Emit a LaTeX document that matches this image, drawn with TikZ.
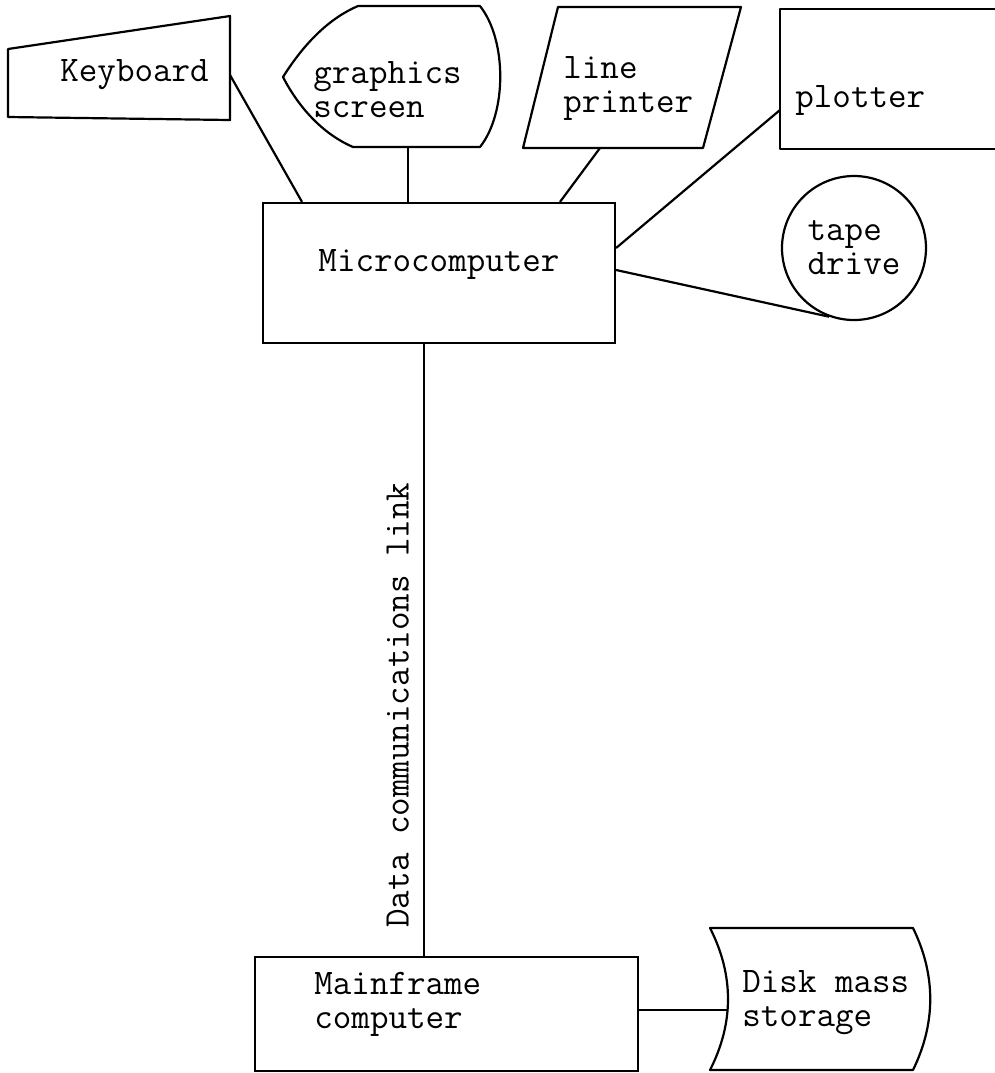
\documentclass[tikz,border=0pt]{standalone}
\usepackage{tikz}

\begin{document}
\begin{tikzpicture}[
  x=0.5pt, y=-0.5pt,
  font=\ttfamily\fontsize{18}{17}\selectfont,
  outline/.style={draw, line width=1.1pt, line join=round},
  box/.style={draw, line width=1.1pt, rectangle, inner sep=0pt},
  link/.style={line width=1.1pt},
  txt/.style={anchor=west, inner sep=0pt, align=left}
]
  \useasboundingbox (0,0) rectangle (995,1073);

  % peripherals
  \draw[outline] (8,49) -- (230,16) -- (230,120) -- (8,117) -- cycle;
  \node[txt] (kbdtxt) at (60,75) {Keyboard};
  \coordinate (kbdport) at (230,75);

  \draw[outline] (283,77) .. controls (305,42) and (330,18) .. (358,6) -- (480,6)
    .. controls (507,40) and (507,113) .. (480,147) -- (353,147)
    .. controls (325,135) and (300,110) .. (283,77) -- cycle;
  \node[txt] (scrtxt) at (313,90) {graphics\\screen};
  \coordinate (scrport) at (408,147);

  \draw[outline] (558,7) -- (741,7) -- (703,148) -- (523,148) -- cycle;
  \node[txt] (prntxt) at (563,88) {line\\printer};
  \coordinate (prnport) at (600,148);

  \draw[outline] (995,9) -- (780,9) -- (780,149) -- (995,149);
  \node[txt] (plttxt) at (795,100) {plotter};
  \coordinate (pltport) at (780,110);

  \node[circle, draw, line width=1.1pt, minimum size=72pt, inner sep=0pt, align=left] (tape) at (854,248) {tape\\drive};

  % computers
  \node[box, minimum width=176pt, minimum height=70pt, text height=11pt, text depth=13pt] (micro) at (439,273) {Microcomputer};
  \node[box, minimum width=191.5pt, minimum height=57pt] (main) at (446.5,1014) {};
  \node[txt] (maintxt) at (314,1004) {Mainframe\\computer};

  \draw[outline] (710,928) -- (913,928) .. controls (936,975) and (936,1023) .. (913,1070)
    -- (710,1070) .. controls (734,1023) and (734,975) .. (710,928) -- cycle;
  \node[txt] (disktxt) at (742,1003) {Disk mass\\storage};
  \coordinate (diskport) at (728,1010);

  % connections
  \draw[link] (kbdport) -- ([xshift=-68.5pt]micro.north);
  \draw[link] (scrport) -- (scrport |- micro.north);
  \draw[link] (prnport) -- ([xshift=60.5pt]micro.north);
  \draw[link] (pltport) -- ([yshift=12.5pt]micro.east);
  \draw[link] ([yshift=1.5pt]micro.east) -- (tape.250);
  \draw[link] ([xshift=-11.25pt]main.north) coordinate (linkfoot) -- (linkfoot |- micro.south)
    node[pos=0.41, sloped, above, inner sep=7pt] {Data communications link};
  \draw[link] (diskport -| main.east) -- (diskport);
\end{tikzpicture}
\end{document}
